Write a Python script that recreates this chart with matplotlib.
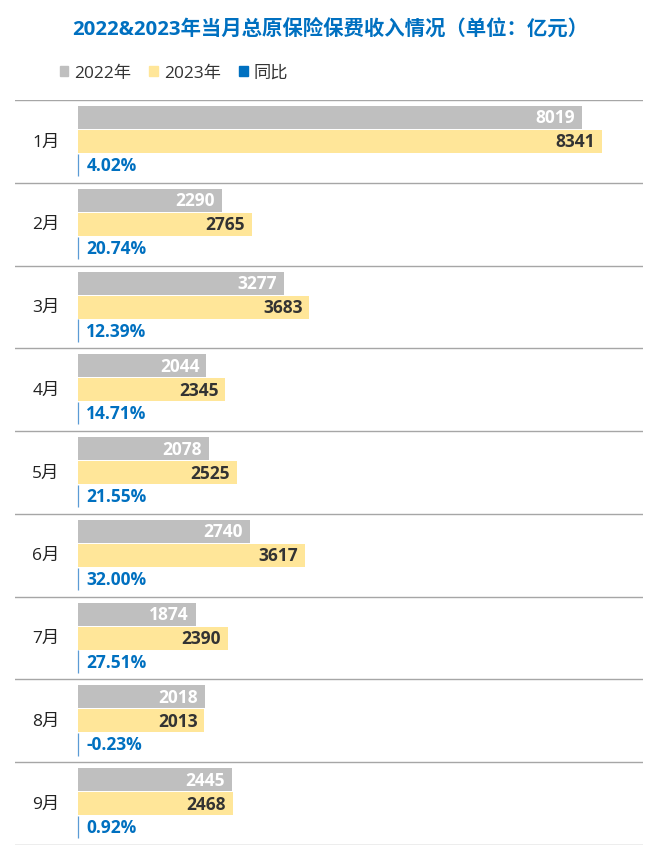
import numpy as np
import matplotlib.pyplot as plt
from matplotlib.patches import Patch
from matplotlib.transforms import blended_transform_factory

months = ['1月', '2月', '3月', '4月', '5月', '6月', '7月', '8月', '9月']
v2022 = [8019, 2290, 3277, 2044, 2078, 2740, 1874, 2018, 2445]
v2023 = [8341, 2765, 3683, 2345, 2525, 3617, 2390, 2013, 2468]
yoy = [4.02, 20.74, 12.39, 14.71, 21.55, 32.00, 27.51, -0.23, 0.92]

GRAY = '#BFBFBF'
YELLOW = '#FFE699'
BLUE = '#0070C0'
LINEBLUE = '#5B9BD5'
FONT = ['Open Sans', 'Noto Sans CJK SC', 'DejaVu Sans']
plt.rcParams['font.family'] = FONT

W, H = 660, 862
fig = plt.figure(figsize=(6.6, 8.62), dpi=100)
# axes spans separator lines: x 15..643 px, y 101..846 px
ax = fig.add_axes([15 / W, 1 - 846 / H, (643 - 15) / W, (846 - 101) / H])

px_per_unit = (602 - 78) / 8341.0
xmin = -(78 - 15) / px_per_unit
xmax = (643 - 78) / px_per_unit
ax.set_xlim(xmin, xmax)
ax.set_ylim(len(months), 0)

idx = np.arange(len(months))
h = 0.278
y_g = idx + 0.211
y_y = idx + 0.501
y_b = idx + 0.785

ax.barh(y_g, v2022, height=h, color=GRAY, linewidth=0)
ax.barh(y_y, v2023, height=h, color=YELLOW, linewidth=0)

# growth rate on its own (very compressed) scale, so bars show as thin lines
ax2 = ax.twiny()
ax2.set_xlim(xmin * 100, xmax * 100)
ax2.set_ylim(len(months), 0)
ax2.barh(y_b, yoy, height=0.27, color=LINEBLUE, edgecolor=LINEBLUE, linewidth=0.9)
ax2.axis('off')

for i in idx:
    ax.annotate(str(v2022[i]), (v2022[i], y_g[i]), xytext=(-5, 0), textcoords='offset points',
                ha='right', va='center', color='white', fontsize=12.5, fontweight='bold')
    ax.annotate(str(v2023[i]), (v2023[i], y_y[i]), xytext=(-5, 0), textcoords='offset points',
                ha='right', va='center', color='#333333', fontsize=12.5, fontweight='bold')
    ax.annotate('%.2f%%' % yoy[i], (0, y_b[i]), xytext=(6, 0), textcoords='offset points',
                ha='left', va='center', color=BLUE, fontsize=12.5, fontweight='bold')

tr = blended_transform_factory(ax.transAxes, ax.transData)
for i, m in enumerate(months):
    ax.text(31 / 628, y_y[i], m, transform=tr, ha='center', va='center',
            fontsize=12.5, color='#222222')

for k in range(len(months) + 1):
    ax.axhline(k, color='#A6A6A6', linewidth=1)

ax.axis('off')

fig.text(0.5, 1 - 30 / H, '2022&2023年当月总原保险保费收入情况（单位：亿元）',
         ha='center', va='center', color=BLUE, fontsize=14.7, fontweight='bold')

handles = [Patch(color=GRAY), Patch(color=YELLOW), Patch(color=BLUE)]
leg = fig.legend(handles, ['2022年', '2023年', '同比'], loc='center left',
                 bbox_to_anchor=(44 / W, 1 - 74 / H), ncol=3, frameon=False,
                 handlelength=0.5, handleheight=0.5, handletextpad=0.35,
                 columnspacing=1.05, fontsize=12.4, labelcolor='#333333')

fig.savefig('out.png', dpi=100)
